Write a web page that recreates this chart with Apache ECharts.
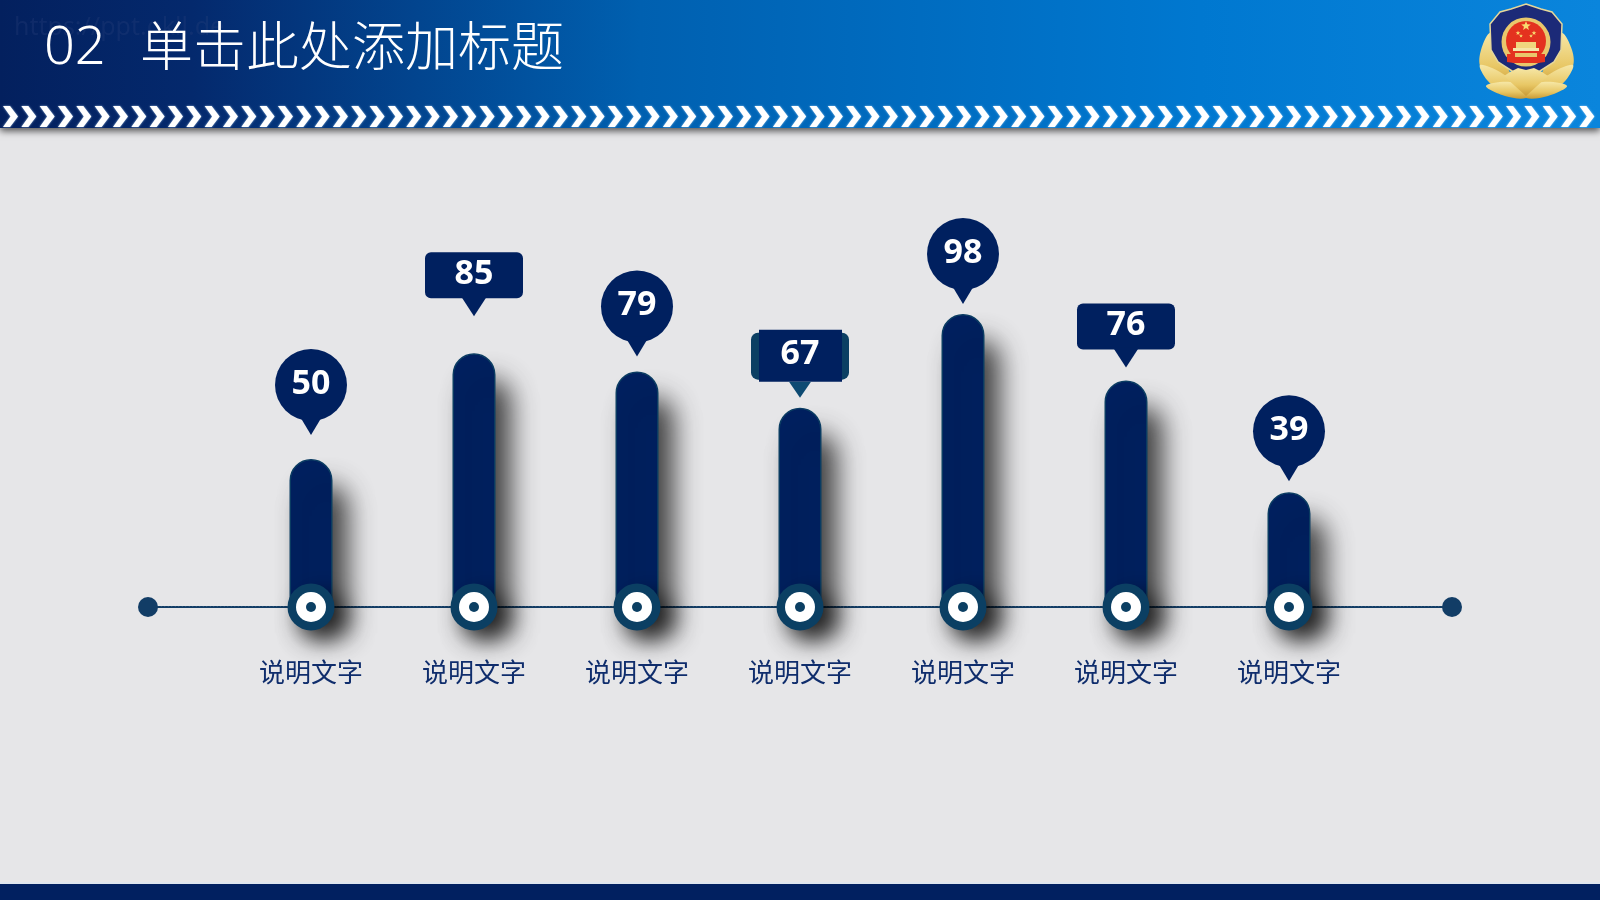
<!DOCTYPE html>
<html>
<head>
<meta charset="utf-8">
<style>html,body{margin:0;padding:0;background:#e6e6e8}#c{width:1600px;height:900px}</style>
<script src="https://cdn.jsdelivr.net/npm/echarts@6/dist/echarts.min.js"></script>
</head>
<body>
<div id="c"></div>
<script>
const categories = ['说明文字','说明文字','说明文字','说明文字','说明文字','说明文字','说明文字'];
const values = [50,85,79,67,98,76,39];
const pinKinds = ['circle','rect','circle','tab','circle','rect','circle'];
const pinGaps = [24,37,15,10,10,13,11];
const titleNumber = '02';
const titleText = '单击此处添加标题';
const watermark = 'https://ppt.okll.de';

const NAVY = '#00205f', TEAL = '#0b3f63', AXIS_MIN = 1;
const axisCats = [''].concat(categories, ['']);
const padded = a => [null].concat(a, [null]);

function pin(cx, tip, kind, val) {
  const kids = [];
  const tri = (w, h, fill) => ({type:'polygon', shape:{points:[[cx-w/2,tip-h],[cx+w/2,tip-h],[cx,tip]]}, style:{fill}});
  let ty;
  if (kind === 'circle') {
    ty = tip - 50;
    kids.push({type:'circle', shape:{cx, cy:ty, r:36}, style:{fill:NAVY}});
    kids.push(tri(24,20,NAVY));
  } else if (kind === 'rect') {
    ty = tip - 41;
    kids.push({type:'rect', shape:{x:cx-49, y:tip-64, width:98, height:46, r:6}, style:{fill:NAVY}});
    kids.push(tri(26,20,NAVY));
  } else {
    ty = tip - 42;
    kids.push({type:'rect', shape:{x:cx-49, y:tip-65, width:98, height:47, r:7}, style:{fill:TEAL}});
    kids.push({type:'rect', shape:{x:cx-41, y:tip-68, width:83, height:52, r:0}, style:{fill:NAVY}});
    kids.push(tri(22,16,'#0d4a72'));
  }
  kids.push({type:'text', style:{x:cx, y:ty-1, text:String(val), fill:'#fff', align:'center', verticalAlign:'middle',
    font:'bold 34px "Noto Sans"'}});
  return kids;
}

/* decorations of the header band */
const deco = [];
deco.push({type:'rect', shape:{x:0,y:0,width:1600,height:128},
  style:{fill:new echarts.graphic.LinearGradient(0,0,1,0,[
    {offset:0,color:'#03205e'},{offset:.12,color:'#04296d'},{offset:.4,color:'#0060b0'},{offset:.75,color:'#0078d0'},{offset:1,color:'#0a85dc'}]),
    shadowBlur:7, shadowOffsetY:3, shadowColor:'rgba(0,0,0,.65)'}});
for (let i = 0; i < 87; i++) {
  const x = 3 + i*18.33, y = 106;
  deco.push({type:'polygon', shape:{points:[[x,y],[x+7,y],[x+15,y+10.5],[x+7,y+21],[x,y+21],[x+7.5,y+10.5]]},
    style:{fill:'#fff', shadowBlur:2, shadowColor:'rgba(200,230,255,.8)'}});
}
deco.push({type:'rect', shape:{x:0,y:884,width:1600,height:16}, style:{fill:'#012060'}});
deco.push({type:'rect', shape:{x:0,y:882,width:1600,height:2}, style:{fill:'#dfe6ee'}});

/* emblem */
const GOLD = new echarts.graphic.LinearGradient(0,0,0,1,[{offset:0,color:'#f6e7a6'},{offset:.6,color:'#e8c765'},{offset:1,color:'#c99a35'}]);
const leaf = pts => deco.push({type:'polygon', shape:{points:pts, smooth:.35}, style:{fill:GOLD}});
leaf([[1491,33],[1481,50],[1481,68],[1500,82],[1515,88],[1505,62]]);
leaf([[1561,33],[1572,50],[1572,68],[1552,82],[1537,88],[1547,62]]);
leaf([[1480,65],[1500,72],[1526,92],[1526,98],[1500,90],[1487,80]]);
leaf([[1573,65],[1553,72],[1526,92],[1526,98],[1553,90],[1566,80]]);
leaf([[1486,86],[1510,82],[1526,90],[1526,98],[1505,96]]);
leaf([[1567,86],[1543,82],[1526,90],[1526,98],[1548,96]]);
deco.push({type:'polygon', shape:{points:[[1526,4],[1541,9],[1552,12],[1562,24],[1561,50],[1554,62],[1540,71],[1526,78],[1512,71],[1498,62],[1491,50],[1490,24],[1500,12],[1511,9]]},
  style:{fill:'#1c2a78', stroke:'#e6d79a', lineWidth:1.5}});
deco.push({type:'circle', shape:{cx:1526,cy:42,r:24.5}, style:{fill:'#e9c86c'}});
deco.push({type:'circle', shape:{cx:1526,cy:41,r:20}, style:{fill:'#e4321f'}});
function star(cx, cy, r) {
  const p = [];
  for (let i = 0; i < 10; i++) {
    const a = -Math.PI/2 + i*Math.PI/5, q = i%2 ? r*.42 : r;
    p.push([cx+q*Math.cos(a), cy+q*Math.sin(a)]);
  }
  deco.push({type:'polygon', shape:{points:p}, style:{fill:'#f8dc70'}});
}
star(1526,26,5); star(1518,33,2.5); star(1534,33,2.5); star(1521,36,2); star(1531,36,2);
deco.push({type:'rect', shape:{x:1516,y:42,width:20,height:8}, style:{fill:'#f0d77e'}});
deco.push({type:'rect', shape:{x:1513,y:48,width:26,height:3}, style:{fill:'#f5e7a8'}});
deco.push({type:'polygon', shape:{points:[[1507,54],[1545,54],[1545,62],[1538,63],[1514,63],[1507,62]]}, style:{fill:'#e4321f'}});
deco.push({type:'rect', shape:{x:1515,y:53,width:22,height:4}, style:{fill:'#e9c86c'}});
deco.push({type:'polygon', shape:{points:[[1510,72],[1518,68],[1526,70],[1534,68],[1542,72],[1548,76],[1526,96],[1504,76]]}, style:{fill:GOLD}});

const chart = echarts.init(document.getElementById('c'), null, {renderer:'canvas'});
chart.setOption({
  animation:false,
  backgroundColor:'#e6e6e8',
  title:[
    {text:watermark, left:9, top:10, z:200, textStyle:{fontFamily:'Noto Sans', fontWeight:'normal', fontSize:25, color:'rgba(45,70,125,.28)'}},
    {text:titleNumber, left:39, top:17, z:201, textStyle:{fontFamily:'Noto Sans', fontWeight:300, fontSize:54, color:'#fff'}},
    {text:titleText, left:135, top:14, z:201, textStyle:{fontFamily:'Noto Sans CJK SC', fontWeight:300, fontSize:53, color:'#fff'}}
  ],
  graphic:{elements:deco},
  grid:{left:148, right:148, top:308, bottom:293, containLabel:false},
  xAxis:{type:'category', data:axisCats, boundaryGap:false,
    axisTick:{show:false},
    axisLine:{show:true, onZero:false, symbol:['circle','circle'], symbolSize:[20,20],
      lineStyle:{color:'#123d66', width:2, type:[2,1.5]}},
    axisLabel:{interval:0, margin:52, fontFamily:'Noto Sans CJK SC', fontSize:26, color:'#0f2d6c'}},
  yAxis:{type:'value', min:AXIS_MIN, max:100, show:false, splitLine:{show:false}},
  series:[
    {type:'bar', data:padded(values), barWidth:43, z:3,
     itemStyle:{color:NAVY, borderColor:'#0a3c62', borderWidth:1.5, borderRadius:[22,22,0,0],
       shadowColor:'rgba(0,0,0,.72)', shadowBlur:26, shadowOffsetX:15, shadowOffsetY:26}},
    {type:'custom', z:4, clip:false, data:padded(values),
     renderItem(params, api){
       const v = api.value(1);
       if (v == null || isNaN(v)) return null;
       const c = api.coord([api.value(0), AXIS_MIN]);
       const x = c[0], y = c[1];
       return {type:'group', children:[
         {type:'circle', shape:{cx:x,cy:y,r:23.5}, style:{fill:TEAL, shadowColor:'rgba(0,0,0,.6)', shadowBlur:22, shadowOffsetX:12, shadowOffsetY:10}},
         {type:'circle', shape:{cx:x,cy:y,r:15}, style:{fill:'#fff'}},
         {type:'circle', shape:{cx:x,cy:y,r:5}, style:{fill:TEAL}}
       ]};
     }},
    {type:'custom', z:5, clip:false, data:padded(values),
     renderItem(params, api){
       const v = api.value(1);
       if (v == null || isNaN(v)) return null;
       const i = params.dataIndex - 1;
       const t = api.coord([api.value(0), v]);
       return {type:'group', children:pin(t[0], t[1]-pinGaps[i], pinKinds[i], v)};
     }}
  ]
});
</script>
</body>
</html>
